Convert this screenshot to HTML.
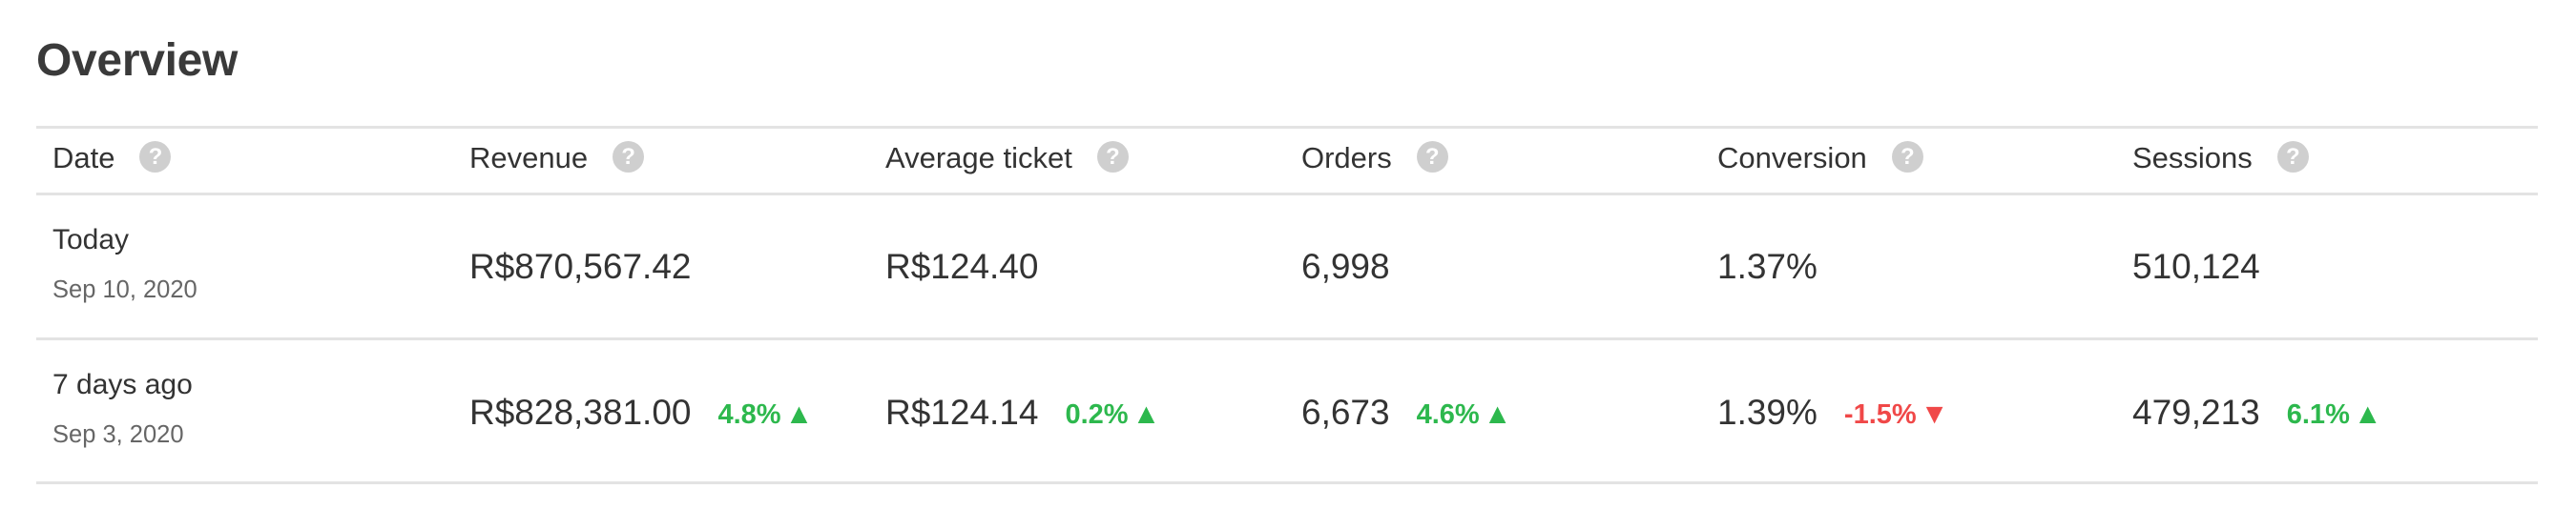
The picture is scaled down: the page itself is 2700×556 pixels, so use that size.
<!DOCTYPE html>
<html><head><meta charset="utf-8"><style>
html,body{margin:0;padding:0;background:#fff;width:2700px;height:556px;overflow:hidden;font-family:"Liberation Sans",sans-serif;color:#333}
.t{position:absolute;white-space:nowrap}
h1{position:absolute;left:38px;top:36px;margin:0;font-size:48px;font-weight:bold;color:#3a3a3a;letter-spacing:-0.3px}
.line{position:absolute;left:38px;width:2622px;height:3px;background:#e3e3e3}
.hd{font-size:31px;color:#333;top:148px}
.q{display:inline-block;width:33px;height:33px;border-radius:50%;background:#cfcfcf;color:#fff;font-size:24px;font-weight:bold;text-align:center;line-height:33px;vertical-align:middle;margin-left:26px;position:relative;top:-3px}
.v{font-size:37px;color:#333}
.d1{font-size:30px;color:#333}
.d2{font-size:25.5px;color:#666}
.up,.dn{font-weight:bold;font-size:29px;margin-left:28px;position:relative;top:-1px}
.up{color:#2db84d}
.dn{color:#f04848}
.tri{font-size:30px;margin-left:4px}
</style></head><body>
<h1>Overview</h1>
<div class="line" style="top:132px"></div>
<div class="line" style="top:202px"></div>
<div class="line" style="top:354px"></div>
<div class="line" style="top:505px"></div>

<div class="t hd" style="left:55px">Date<span class="q">?</span></div>
<div class="t hd" style="left:492px">Revenue<span class="q">?</span></div>
<div class="t hd" style="left:928px">Average ticket<span class="q">?</span></div>
<div class="t hd" style="left:1364px">Orders<span class="q">?</span></div>
<div class="t hd" style="left:1800px">Conversion<span class="q">?</span></div>
<div class="t hd" style="left:2235px">Sessions<span class="q">?</span></div>

<div class="t d1" style="left:55px;top:235px">Today</div>
<div class="t d2" style="left:55px;top:290px">Sep 10, 2020</div>
<div class="t v" style="left:492px;top:259px">R$870,567.42</div>
<div class="t v" style="left:928px;top:259px">R$124.40</div>
<div class="t v" style="left:1364px;top:259px">6,998</div>
<div class="t v" style="left:1800px;top:259px">1.37%</div>
<div class="t v" style="left:2235px;top:259px">510,124</div>

<div class="t d1" style="left:55px;top:387px">7 days ago</div>
<div class="t d2" style="left:55px;top:442px">Sep 3, 2020</div>
<div class="t v" style="left:492px;top:412px">R$828,381.00<span class="up">4.8%<span class="tri">▲</span></span></div>
<div class="t v" style="left:928px;top:412px">R$124.14<span class="up">0.2%<span class="tri">▲</span></span></div>
<div class="t v" style="left:1364px;top:412px">6,673<span class="up">4.6%<span class="tri">▲</span></span></div>
<div class="t v" style="left:1800px;top:412px">1.39%<span class="dn">-1.5%<span class="tri">▼</span></span></div>
<div class="t v" style="left:2235px;top:412px">479,213<span class="up">6.1%<span class="tri">▲</span></span></div>
</body></html>
